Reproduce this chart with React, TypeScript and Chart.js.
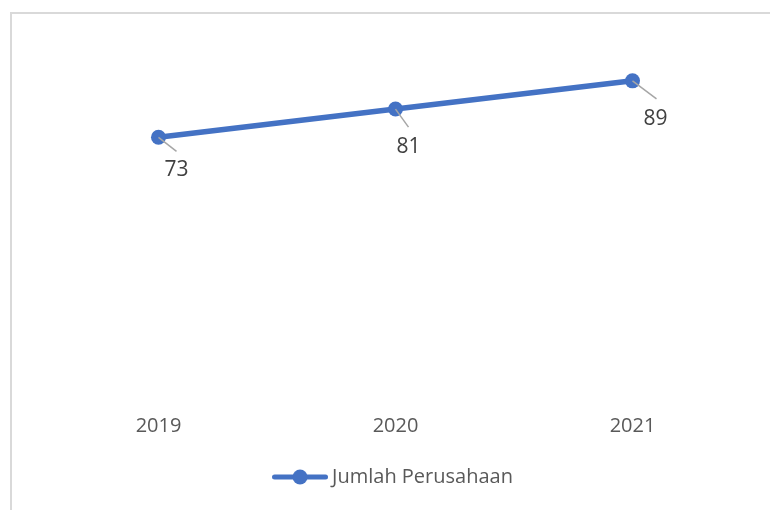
import React, { useEffect, useRef } from "react";
import { Chart, registerables } from "chart.js";

Chart.register(...registerables);

const years: string[] = ["2019", "2020", "2021"];
const jumlahPerusahaan: number[] = [73, 81, 89];
const seriesName = "Jumlah Perusahaan";
const yMin = 0;
const yMax = 100;

// per-label offsets (leader-line end and label centre, relative to point)
const labelOffsets = [
  { lx: 18, ly: 14, tx: 18, ty: 33 },
  { lx: 13, ly: 18, tx: 13, ty: 38 },
  { lx: 24, ly: 18, tx: 23, ty: 38 },
];

const FONT = "'Open Sans', 'Noto Sans', sans-serif";
const BLUE = "#4472c4";

function makeLegendMarker(): HTMLCanvasElement {
  const c = document.createElement("canvas");
  c.width = 56;
  c.height = 16;
  const ctx = c.getContext("2d")!;
  ctx.strokeStyle = BLUE;
  ctx.lineWidth = 5;
  ctx.lineCap = "round";
  ctx.beginPath();
  ctx.moveTo(2.5, 8);
  ctx.lineTo(53.5, 8);
  ctx.stroke();
  ctx.fillStyle = BLUE;
  ctx.beginPath();
  ctx.arc(28, 8, 7.5, 0, Math.PI * 2);
  ctx.fill();
  return c;
}

const frameAndLabels = {
  id: "frameAndLabels",
  beforeDraw(chart: any) {
    const ctx = chart.ctx;
    ctx.save();
    ctx.strokeStyle = "#d9d9d9";
    ctx.lineWidth = 2;
    ctx.strokeRect(11, 13, 800, 600);
    ctx.restore();
  },
  afterDatasetsDraw(chart: any) {
    const ctx = chart.ctx;
    const meta = chart.getDatasetMeta(0);
    const data = chart.data.datasets[0].data as number[];
    ctx.save();
    meta.data.forEach((pt: any, i: number) => {
      const o = labelOffsets[i];
      ctx.strokeStyle = "#a6a6a6";
      ctx.lineWidth = 1.5;
      ctx.beginPath();
      ctx.moveTo(pt.x, pt.y);
      ctx.lineTo(pt.x + o.lx, pt.y + o.ly);
      ctx.stroke();
      ctx.fillStyle = "#404040";
      ctx.font = `21px ${FONT}`;
      ctx.textAlign = "center";
      ctx.textBaseline = "middle";
      ctx.fillText(String(data[i]), pt.x + o.tx, pt.y + o.ty);
    });
    ctx.restore();
  },
};

export default function App() {
  const ref = useRef<HTMLCanvasElement | null>(null);
  useEffect(() => {
    if (!ref.current) return;
    const marker = makeLegendMarker();
    const chart = new Chart(ref.current, {
      type: "line",
      data: {
        labels: years,
        datasets: [
          {
            label: seriesName,
            data: jumlahPerusahaan,
            borderColor: BLUE,
            backgroundColor: BLUE,
            borderWidth: 5.5,
            pointRadius: 7.5,
            pointHoverRadius: 7.5,
            pointBackgroundColor: BLUE,
            pointBorderWidth: 0,
            tension: 0,
          },
        ],
      },
      options: {
        animation: false,
        responsive: false,
        layout: { padding: { left: 40, right: 19, top: 42, bottom: 13 } },
        scales: {
          x: {
            offset: true,
            grid: { display: false, drawTicks: false },
            border: { display: false },
            ticks: {
              color: "#595959",
              font: { family: FONT, size: 20 },
              padding: 19,
            },
            afterFit: (s: any) => {
              s.height = 62;
            },
          },
          y: {
            display: false,
            min: yMin,
            max: yMax,
          },
        },
        plugins: {
          tooltip: { enabled: false },
          legend: {
            position: "bottom",
            labels: {
              color: "#595959",
              font: { family: FONT, size: 20 },
              usePointStyle: true,
              pointStyleWidth: 44,
              padding: 10,
              generateLabels: () => [
                {
                  text: seriesName,
                  pointStyle: marker as any,
                  fillStyle: BLUE,
                  strokeStyle: BLUE,
                  lineWidth: 0,
                  hidden: false,
                  fontColor: "#595959",
                  datasetIndex: 0,
                } as any,
              ],
            },
          },
        },
      },
      plugins: [frameAndLabels],
    });
    return () => chart.destroy();
  }, []);
  return (
    <div style={{ position: "fixed", left: 0, top: 0, width: 770, height: 510, background: "#fff" }}>
      <canvas ref={ref} width={770} height={510} style={{ display: "block" }} />
    </div>
  );
}
